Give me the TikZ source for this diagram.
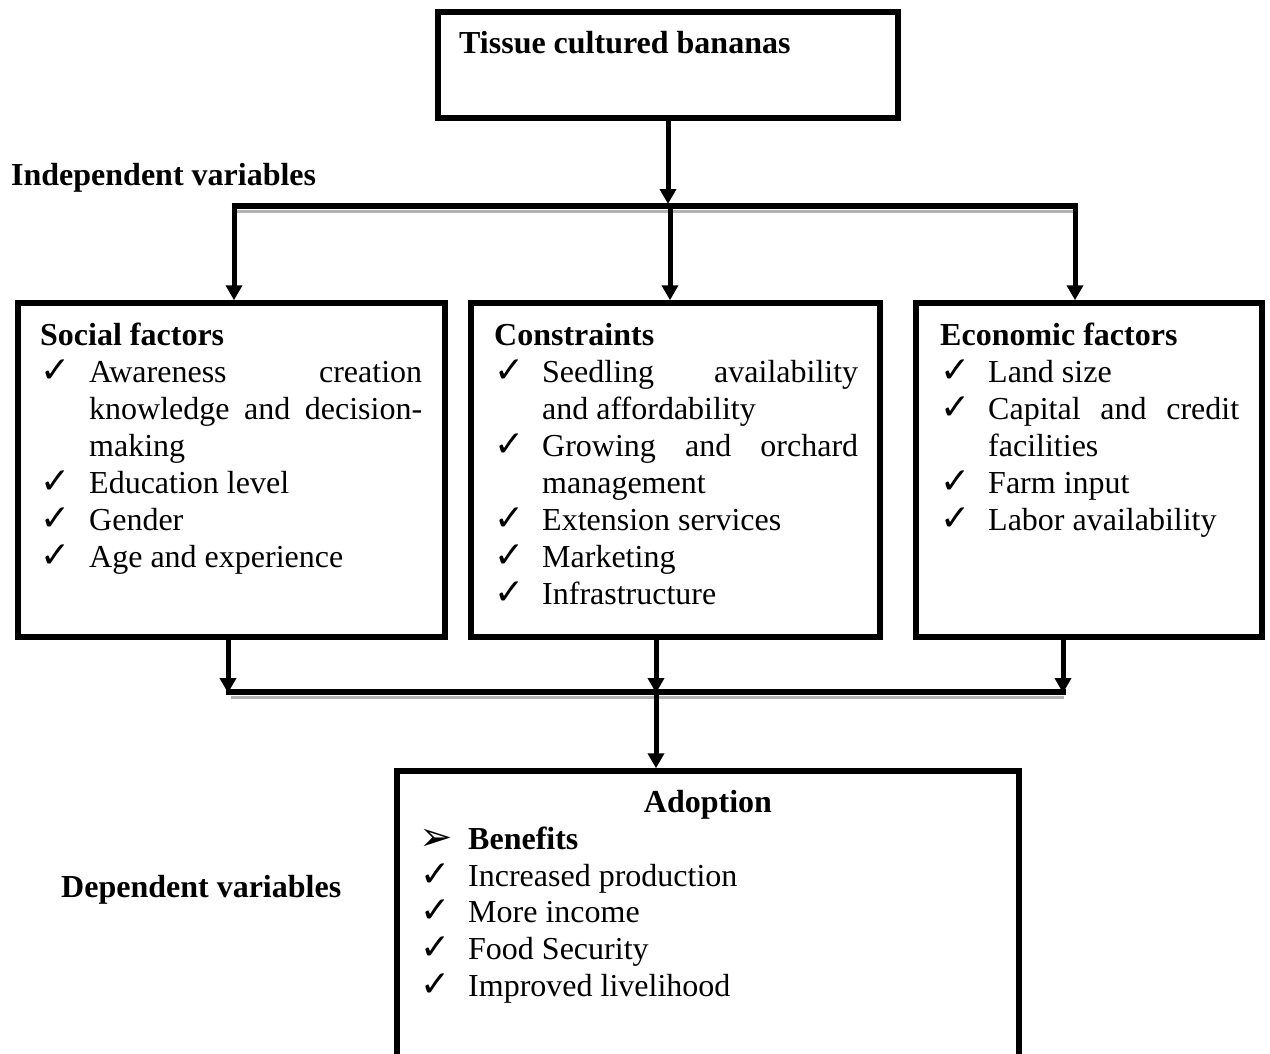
\documentclass[tikz,border=0pt]{standalone}
\usepackage{fontspec}
\setmainfont{Liberation Serif}
\newfontfamily\symfont{DejaVu Sans}
\usetikzlibrary{arrows.meta}
\newcommand\fsz{\fontsize{32}{37}\selectfont}
\newcommand\ck{{\symfont\fontsize{36}{36}\selectfont ✓}}
\newcommand\ar{{\symfont\fontsize{40}{40}\selectfont ➢}}
\tikzset{
  box/.style={draw=black, line width=5.5pt, minimum width=#1, inner sep=0pt},
  txt/.style={anchor=base west, inner sep=0pt, font=\fsz},
  btxt/.style={anchor=base west, inner sep=0pt, font=\fsz\bfseries},
  arr/.style={line width=5pt, -{Triangle[length=15pt,width=16pt]}},
  bar/.style={line width=5.5pt},
  shade/.style={line width=3pt, draw=black!30}
}
\begin{document}
\begin{tikzpicture}[x=1pt,y=-1pt]
\useasboundingbox (0,0) rectangle (1270,1053);
% boxes
\node[box=460pt, minimum height=106pt] (top) at (668,65) {};
\node[box=427pt, minimum height=334pt] (social) at (231.5,470) {};
\node[box=409pt, minimum height=334pt] (constr) at (675.5,470) {};
\node[box=346pt, minimum height=334pt] (econ) at (1089,470) {};
\node[box=622pt, minimum height=320pt] (adopt) at (708,931) {};
% top text
\node[btxt] (ttitle) at (459,53) {Tissue cultured bananas};
\node[btxt] (indep) at (11,185) {Independent variables};
\node[btxt] (dep) at (61,897) {Dependent variables};
% upper connectors
\coordinate (u0) at (668,206);
\coordinate (ul) at (234,206);
\coordinate (ur) at (1075,206);
\coordinate (um) at (670,206);
\draw[shade] (237,211.5) -- (1073,211.5);
\draw[bar] ([xshift=-2.5pt]ul) -- ([xshift=2.5pt]ur);
\draw[arr] (top.south) -- ([yshift=2pt]u0);
\draw[arr] ([yshift=-2.7pt]ul) -- (ul |- social.north);
\draw[arr] (um) -- (um |- constr.north);
\draw[arr] ([yshift=-2.7pt]ur) -- (ur |- econ.north);
% lower connectors
\coordinate (d1) at (228,692);
\coordinate (d2) at (656,692);
\coordinate (d3) at (1063,692);
\coordinate (d2b) at (656,692);
\draw[shade] (231,697.5) -- (1064,697.5);
\draw[bar] ([xshift=-2.5pt]d1) -- ([xshift=2.5pt]d3);
\draw[arr] (d1 |- social.south) -- ([yshift=-1pt]d1);
\draw[arr] (d2 |- constr.south) -- ([yshift=-1pt]d2);
\draw[arr] (d3 |- econ.south) -- ([yshift=-1pt]d3);
\draw[arr] (d2b) -- (d2b |- adopt.north);
% social
\node[btxt] (s0) at (40,345) {Social factors};
\node[txt] (s1c) at (40,382) {\ck};
\node[txt] (s1) at (89,382) {\makebox[333pt][s]{Awareness creation}};
\node[txt] (s2) at (89,419) {\makebox[333pt][s]{knowledge and decision-}};
\node[txt] (s3) at (89,456) {making};
\node[txt] (s4c) at (40,493) {\ck};
\node[txt] (s4) at (89,493) {Education level};
\node[txt] (s5c) at (40,530) {\ck};
\node[txt] (s5) at (89,530) {Gender};
\node[txt] (s6c) at (40,567) {\ck};
\node[txt] (s6) at (89,567) {Age and experience};
% constraints
\node[btxt] (c0) at (494,345) {Constraints};
\node[txt] (c1c) at (494,382) {\ck};
\node[txt] (c1) at (542,382) {\makebox[316pt][s]{Seedling availability}};
\node[txt] (c2) at (542,419) {and affordability};
\node[txt] (c3c) at (494,456) {\ck};
\node[txt] (c3) at (542,456) {\makebox[316pt][s]{Growing and orchard}};
\node[txt] (c4) at (542,493) {management};
\node[txt] (c5c) at (494,530) {\ck};
\node[txt] (c5) at (542,530) {Extension services};
\node[txt] (c6c) at (494,567) {\ck};
\node[txt] (c6) at (542,567) {Marketing};
\node[txt] (c7c) at (494,604) {\ck};
\node[txt] (c7) at (542,604) {Infrastructure};
% economic
\node[btxt] (e0) at (940,345) {Economic factors};
\node[txt] (e1c) at (940,382) {\ck};
\node[txt] (e1) at (988,382) {Land size};
\node[txt] (e2c) at (940,419) {\ck};
\node[txt] (e2) at (988,419) {\makebox[251pt][s]{Capital and credit}};
\node[txt] (e3) at (988,456) {facilities};
\node[txt] (e4c) at (940,493) {\ck};
\node[txt] (e4) at (988,493) {Farm input};
\node[txt] (e5c) at (940,530) {\ck};
\node[txt] (e5) at (988,530) {Labor availability};
% adoption
\node[anchor=base, inner sep=0pt, font=\fsz\bfseries] (a0) at (708,812) {Adoption};
\node[txt] (a1c) at (419,850) {\ar};
\node[btxt] (a1) at (468,849) {Benefits};
\node[txt] (a2c) at (420,886) {\ck};
\node[txt] (a2) at (468,886) {Increased production};
\node[txt] (a3c) at (420,922) {\ck};
\node[txt] (a3) at (468,922) {More income};
\node[txt] (a4c) at (420,959) {\ck};
\node[txt] (a4) at (468,959) {Food Security};
\node[txt] (a5c) at (420,996) {\ck};
\node[txt] (a5) at (468,996) {Improved livelihood};
\end{tikzpicture}
\end{document}
